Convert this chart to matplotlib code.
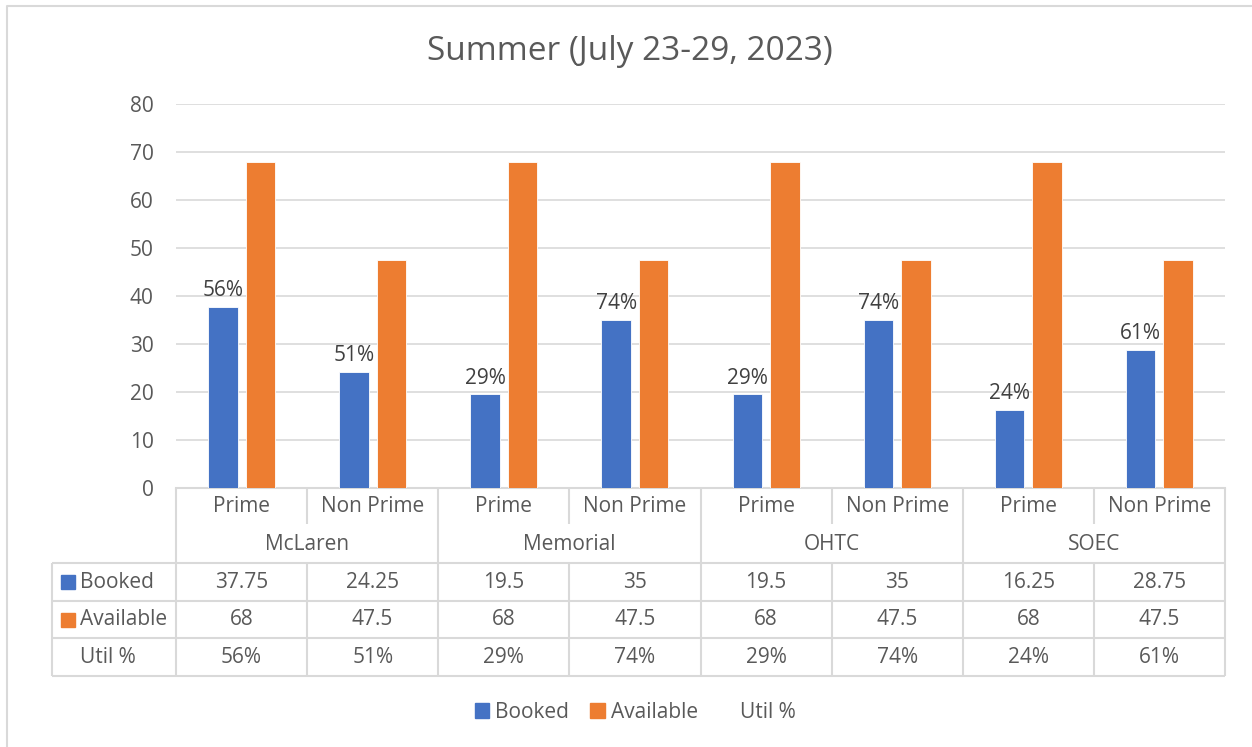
import matplotlib
matplotlib.use('Agg')
from matplotlib import pyplot as plt
from matplotlib.patches import Patch
from matplotlib.lines import Line2D
import numpy as np

plt.rcParams['font.family'] = ['Open Sans', 'DejaVu Sans']

# data
title = "Summer (July 23-29, 2023)"
sites = ["McLaren", "Memorial", "OHTC", "SOEC"]
slots = ["Prime", "Non Prime"]
booked = [37.75, 24.25, 19.5, 35, 19.5, 35, 16.25, 28.75]
available = [68, 47.5, 68, 47.5, 68, 47.5, 68, 47.5]
util_pct = [56, 51, 29, 74, 29, 74, 24, 61]
yticks = [0, 10, 20, 30, 40, 50, 60, 70, 80]

BLUE = '#4472C4'
ORANGE = '#ED7D31'
TXT = '#595959'
GRID = '#d9d9d9'
FS = 15

W, H = 1252, 747
fig = plt.figure(figsize=(W / 100, H / 100), dpi=100)

def fx(px):
	return px / W

def fy(py):
	return 1 - py / H

# chart area border (cropped at right/bottom in the reference)
fig.add_artist(Line2D([fx(7), fx(7), fx(W)], [fy(H), fy(5.5), fy(5.5)],
	transform=fig.transFigure, color=GRID, lw=1.5))

left, right, top, bottom = 176, 1225, 104, 488
ax = fig.add_axes([fx(left), fy(bottom), fx(right - left), (bottom - top) / H])

n = len(booked)
x = np.arange(n)
bw = 0.225
off = 0.143
ax.bar(x - off, booked, bw, color=BLUE, edgecolor='white', linewidth=0.6, zorder=3, label='Booked')
ax.bar(x + off, available, bw, color=ORANGE, edgecolor='white', linewidth=0.6, zorder=3, label='Available')

for xi, b, u in zip(x, booked, util_pct):
	ax.annotate('%d%%' % u, (xi - off, b), xytext=(0, 4), textcoords='offset points',
		ha='center', va='bottom', fontsize=FS, color='#404040')

ax.set_xlim(-0.5, n - 0.5)
ax.set_ylim(0, 80)
ax.set_yticks(yticks)
ax.set_xticks([])
ax.yaxis.grid(True, color=GRID, lw=1.2, zorder=0)
ax.tick_params(axis='y', length=0, pad=16, labelsize=FS, labelcolor=TXT)
for s in ['top', 'right', 'left']:
	ax.spines[s].set_visible(False)
ax.spines['bottom'].set_color(GRID)
ax.spines['bottom'].set_linewidth(1.5)

fig.text(fx(630), fy(52), title, ha='center', va='center', fontsize=24, color=TXT)

# data table below the plot
tab_bottom = 676
tax = fig.add_axes([fx(left), fy(tab_bottom), fx(right - left), (tab_bottom - bottom) / H])
tax.set_xlim(-0.5, n - 0.5)
tax.set_ylim(5, 0)
tax.axis('off')

unit = (right - left) / n
x_lab = -0.5 - (left - 52) / unit
lk = dict(color=GRID, lw=1.5, clip_on=False, solid_capstyle='butt')

tax.plot([-0.5, -0.5], [0, 5], **lk)
tax.plot([n - 0.5, n - 0.5], [0, 5], **lk)
for g in range(1, len(sites)):
	xb = 2 * g - 0.5
	tax.plot([xb, xb], [0, 5], **lk)
for g in range(len(sites)):
	xb = 2 * g + 0.5
	tax.plot([xb, xb], [0, 0.95], **lk)
	tax.plot([xb, xb], [2, 5], **lk)
for r in [2, 3, 4, 5]:
	tax.plot([x_lab, n - 0.5], [r, r], **lk)
tax.plot([x_lab, x_lab], [2, 5], **lk)

for i in range(n):
	tax.text(i, 0.5, slots[i % 2], ha='center', va='center', fontsize=FS, color=TXT)
	tax.text(i, 2.5, '%g' % booked[i], ha='center', va='center', fontsize=FS, color=TXT)
	tax.text(i, 3.5, '%g' % available[i], ha='center', va='center', fontsize=FS, color=TXT)
	tax.text(i, 4.5, '%d%%' % util_pct[i], ha='center', va='center', fontsize=FS, color=TXT)
for g, name in enumerate(sites):
	tax.text(2 * g + 0.5, 1.5, name, ha='center', va='center', fontsize=FS, color=TXT)

x_txt = -0.5 - (left - 80) / unit
x_key = -0.5 - (left - 68) / unit
for r, (name, c) in enumerate([('Booked', BLUE), ('Available', ORANGE), ('Util %', None)]):
	if c is not None:
		tax.plot([x_key], [2.5 + r], marker='s', ms=10, color=c, clip_on=False, lw=0)
	tax.text(x_txt, 2.5 + r, name, ha='left', va='center', fontsize=FS, color=TXT)

handles = [Patch(color=BLUE, label='Booked'), Patch(color=ORANGE, label='Available'),
	Patch(color='none', label='Util %')]
fig.legend(handles=handles, loc='center', bbox_to_anchor=(fx(635), fy(712)), ncol=3,
	frameon=False, fontsize=FS, labelcolor=TXT, handlelength=0.7, handleheight=0.7,
	handletextpad=0.3, columnspacing=1.0)

fig.savefig('out.png', dpi=100)
